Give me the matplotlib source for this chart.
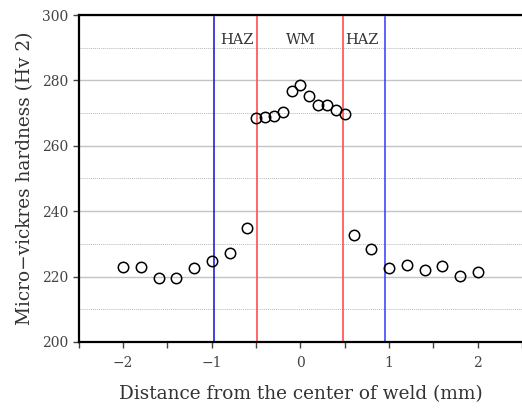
import matplotlib
matplotlib.use("Agg")
import matplotlib.pyplot as plt
from matplotlib.ticker import MultipleLocator

# hardness profile across the weld
dist = [-2.0, -1.8, -1.6, -1.4, -1.2, -1.0, -0.8, -0.6,
        -0.5, -0.4, -0.3, -0.2, -0.1, 0.0, 0.1, 0.2, 0.3, 0.4, 0.5,
        0.6, 0.8, 1.0, 1.2, 1.4, 1.6, 1.8, 2.0]
hardness = [222.8, 223.0, 219.7, 219.7, 222.7, 224.8, 227.3, 234.8,
            268.6, 268.8, 269.1, 270.2, 276.8, 278.7, 275.3, 272.5, 272.6, 271.0, 269.6,
            232.8, 228.3, 222.5, 223.5, 222.1, 223.2, 220.2, 221.5]

# zone boundaries
haz_left, wm_left, wm_right, haz_right = -0.97, -0.49, 0.48, 0.95
zone_labels = ["HAZ", "WM", "HAZ"]
zone_x = [-0.71, 0.0, 0.69]

plt.rcParams["font.family"] = "DejaVu Serif"

fig = plt.figure(figsize=(5.22, 4.08), dpi=100)
ax = fig.add_axes([0.151, 0.162, 0.849, 0.801])

ax.set_xlim(-2.5, 2.5)
ax.set_ylim(200, 300)

ax.yaxis.set_major_locator(MultipleLocator(20))
ax.yaxis.set_minor_locator(MultipleLocator(10))
ax.xaxis.set_major_locator(MultipleLocator(1))
ax.xaxis.set_minor_locator(MultipleLocator(0.5))

ax.grid(axis="y", which="major", color="#c4c4c4", lw=1.0)
ax.grid(axis="y", which="minor", color="#b8b8b8", lw=0.7, ls=(0, (1, 1)))
ax.set_axisbelow(True)

ax.axvline(haz_left, ymax=0.995, color="#1010d0", lw=1.1)
ax.axvline(wm_left, ymax=0.995, color="#ff5a5a", lw=1.3)
ax.axvline(wm_right, ymax=0.995, color="#ff5a5a", lw=1.3)
ax.axvline(haz_right, ymax=0.995, color="#3535ff", lw=1.1)

ax.plot(dist, hardness, "o", mfc="none", mec="black", mew=1.1, ms=7.5, zorder=5)

for lab, xx in zip(zone_labels, zone_x):
    ax.text(xx, 292.5, lab, ha="center", va="center", fontsize=10.5, color="#333333")

for s in ["left", "bottom", "top"]:
    ax.spines[s].set_linewidth(1.6)
    ax.spines[s].set_color("black")
ax.spines["right"].set_visible(False)

ax.tick_params(axis="both", which="both", direction="out", colors="#444444",
               labelsize=10, width=1.0)
ax.tick_params(axis="x", which="both", length=4, pad=6)
ax.tick_params(axis="y", which="major", length=4)
ax.tick_params(axis="y", which="minor", length=0)
ax.set_xticklabels([], minor=True)

ax.set_xlabel("Distance from the center of weld (mm)", fontsize=13.3,
              color="#333333", labelpad=11)
ax.set_ylabel("Micro\u2212vickres hardness (Hv 2)", fontsize=13.3,
              color="#333333", labelpad=6)

fig.savefig("out.png", dpi=100)
